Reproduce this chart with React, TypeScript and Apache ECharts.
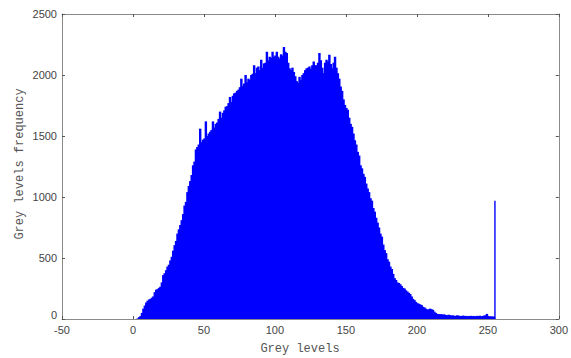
import React, { useEffect, useRef } from "react";
import * as echarts from "echarts";

const greyLevels: number[] = Array.from({ length: 256 }, (_, i) => i);

const frequencies: number[] = [
  0, 0, 0, 5, 15, 25, 50, 85, 110, 135,
  150, 160, 165, 175, 185, 220, 240, 245, 255, 265,
  300, 360, 375, 400, 430, 445, 480, 510, 560, 605,
  640, 700, 735, 770, 810, 860, 930, 960, 1040, 1090,
  1130, 1180, 1260, 1290, 1390, 1410, 1430, 1560, 1450, 1470,
  1480, 1620, 1500, 1520, 1535, 1550, 1620, 1570, 1600, 1610,
  1640, 1700, 1650, 1690, 1710, 1740, 1745, 1770, 1820, 1780,
  1830, 1850, 1855, 1870, 1880, 1900, 1970, 1910, 1930, 2000,
  1940, 1970, 1960, 2000, 2010, 2080, 2015, 2060, 2070, 2040,
  2125, 2060, 2095, 2100, 2190, 2120, 2150, 2140, 2190, 2150,
  2160, 2190, 2150, 2135, 2170, 2160, 2230, 2190, 2180, 2100,
  2055, 2040, 2060, 2025, 1990, 1950, 1935, 1985, 1960, 2000,
  2015, 2040, 2055, 2060, 2070, 2050, 2080, 2110, 2080, 2080,
  2100, 2180, 2120, 2060, 2015, 2100, 2125, 2110, 2165, 2090,
  2055, 2100, 2150, 2060, 2015, 1970, 1905, 1870, 1800, 1755,
  1730, 1715, 1650, 1600, 1575, 1520, 1465, 1430, 1370, 1340,
  1260, 1235, 1190, 1165, 1110, 1070, 1040, 990, 970, 910,
  880, 830, 790, 750, 700, 675, 610, 565, 540, 490,
  470, 430, 410, 370, 335, 320, 300, 295, 285, 270,
  255, 250, 235, 225, 215, 205, 185, 165, 155, 140,
  130, 125, 120, 115, 100, 95, 85, 78, 80, 85,
  80, 75, 60, 50, 42, 40, 38, 40, 35, 38,
  33, 30, 35, 32, 28, 30, 27, 25, 30, 28,
  25, 24, 28, 25, 26, 22, 25, 24, 26, 23,
  25, 22, 26, 24, 27, 22, 25, 28, 30, 42,
  25, 22, 20, 22, 18, 970,
];

const xTitle = "Grey levels";
const yTitle = "Grey levels frequency";

export default function App() {
  const ref = useRef<HTMLDivElement>(null);
  useEffect(() => {
    if (!ref.current) return;
    const chart = echarts.init(ref.current, null, { renderer: "svg" });
    const data = greyLevels.map((g, i) => [g, frequencies[i]]);
    const axisLine = { show: true, onZero: false, lineStyle: { color: "#8a8a8a", width: 1 } };
    const tick = { show: true, inside: true, length: 3, lineStyle: { color: "#555" } };
    const label = {
      color: "#444",
      fontFamily: "Liberation Sans",
      fontSize: 11,
    };
    chart.setOption({
      animation: false,
      backgroundColor: "#ffffff",
      grid: { left: 62, top: 14, right: 12, bottom: 39 },
      xAxis: [
        {
          type: "value",
          min: -50,
          max: 300,
          interval: 50,
          axisLine,
          axisTick: tick,
          axisLabel: { ...label, margin: 5, formatter: (v: number) => String(v) },
          splitLine: { show: false },
        },
        {
          type: "value",
          position: "top",
          min: -50,
          max: 300,
          interval: 50,
          axisLine,
          axisTick: tick,
          axisLabel: { show: false },
          splitLine: { show: false },
        },
      ],
      yAxis: [
        {
          type: "value",
          min: 0,
          max: 2500,
          interval: 500,
          axisLine,
          axisTick: tick,
          axisLabel: {
            ...label,
            margin: 5,
            formatter: (v: number) => (v === 0 ? "{z|0}" : String(v)),
            rich: {
              z: { color: "#444", fontFamily: "Liberation Sans", fontSize: 11, padding: [0, 0, 8, 0] },
            },
          },
          splitLine: { show: false },
        },
        {
          type: "value",
          position: "right",
          min: 0,
          max: 2500,
          interval: 500,
          axisLine,
          axisTick: tick,
          axisLabel: { show: false },
          splitLine: { show: false },
        },
      ],
      series: [
        {
          type: "custom",
          xAxisIndex: 0,
          yAxisIndex: 0,
          data,
          z: 1,
          renderItem: (params: any, api: any) => {
            const g = api.value(0);
            const v = api.value(1);
            const p0 = api.coord([g - 0.5, v]);
            const p1 = api.coord([g + 0.5, 0]);
            const last = g === 255;
            return {
              type: "rect",
              shape: {
                x: p0[0],
                y: p0[1],
                width: last ? 1.4 : p1[0] - p0[0] + 1,
                height: p1[1] - p0[1],
              },
              style: { fill: "#0000ff" },
            };
          },
        },
      ],
      graphic: [
        {
          type: "text",
          x: 300,
          y: 349,
          style: {
            text: xTitle,
            fill: "#555",
            font: "12px 'Liberation Mono'",
            align: "center",
            verticalAlign: "middle",
          },
        },
        {
          type: "text",
          x: 20,
          y: 164,
          rotation: Math.PI / 2,
          style: {
            text: yTitle,
            fill: "#555",
            font: "12px 'Liberation Mono'",
            align: "center",
            verticalAlign: "middle",
          },
        },
      ],
    });
    return () => chart.dispose();
  }, []);
  return <div ref={ref} style={{ width: 571, height: 358, position: "absolute", left: 0, top: 0 }} />;
}
